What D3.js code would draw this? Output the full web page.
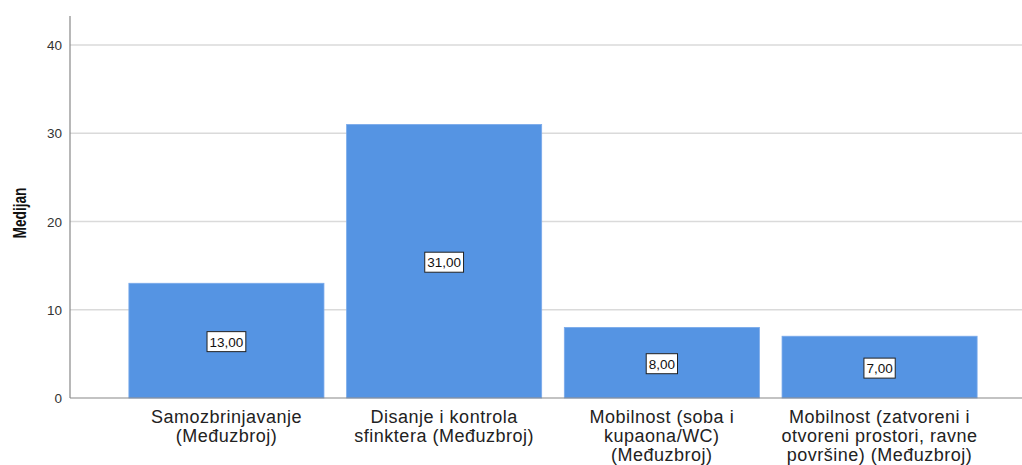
<!DOCTYPE html>
<html lang="en">
<head>
<meta charset="UTF-8">
<title>Medijan</title>
<style>
  body, html { margin: 0; background: #fff; overflow: hidden; }
</style>
</head>
<body>
<div id="chart"></div>
<script src="https://d3js.org/d3.v7.min.js"></script>
<script>
// category labels (already split into lines as in the picture)
const categories = [
  ["Samozbrinjavanje", "(Međuzbroj)"],
  ["Disanje i kontrola", "sfinktera (Međuzbroj)"],
  ["Mobilnost (soba i", "kupaona/WC)", "(Međuzbroj)"],
  ["Mobilnost (zatvoreni i", "otvoreni prostori, ravne", "površine) (Međuzbroj)"]
];
const medians = [13, 31, 8, 7];
const yTicks = [0, 10, 20, 30, 40];

var width = 1022, height = 465;
var plotLeft = 70, plotBottom = 398, plotTop = 16;

var svg = d3.select("#chart").append("svg")
  .attr("width", width)
  .attr("height", height)
  .style("font-family", "Arial, 'Liberation Sans', sans-serif");

var y = d3.scaleLinear().domain([0, 40]).range([plotBottom, 45]);

var x = d3.scaleBand()
  .domain(d3.range(categories.length))
  .range([118, 988])
  .paddingInner(0.104)
  .paddingOuter(0.05);

// gridlines
svg.selectAll(".grid")
  .data(yTicks.filter(d => d > 0))
  .enter().append("line")
  .attr("x1", plotLeft).attr("x2", width)
  .attr("y1", d => y(d)).attr("y2", d => y(d))
  .attr("stroke", "#dadada")
  .attr("stroke-width", 1.5);

// bars
svg.selectAll(".bar")
  .data(medians)
  .enter().append("rect")
  .attr("x", (d, i) => x(i))
  .attr("y", d => y(d))
  .attr("width", x.bandwidth())
  .attr("height", d => plotBottom - y(d))
  .attr("fill", "#5594e3")
  .attr("stroke", "#7aaaea")
  .attr("stroke-width", 0.8);

// axes lines
svg.append("line")
  .attr("x1", plotLeft).attr("x2", plotLeft)
  .attr("y1", plotTop).attr("y2", plotBottom)
  .attr("stroke", "#888").attr("stroke-width", 1.2);
svg.append("line")
  .attr("x1", plotLeft).attr("x2", width)
  .attr("y1", plotBottom).attr("y2", plotBottom)
  .attr("stroke", "#888").attr("stroke-width", 1.2);

// y tick labels
svg.selectAll(".ylab")
  .data(yTicks)
  .enter().append("text")
  .attr("x", 62)
  .attr("y", d => y(d) + 5)
  .attr("text-anchor", "end")
  .attr("font-size", 13.5)
  .attr("fill", "#333")
  .text(d => d);

// y title (reference font is narrow, so squeeze it along its length)
svg.append("text")
  .attr("transform", "translate(26,213) rotate(-90) scale(0.74,1)")
  .attr("text-anchor", "middle")
  .attr("font-size", 18.5)
  .attr("font-weight", "bold")
  .attr("fill", "#111")
  .text("Medijan");

// category labels
svg.selectAll(".xlab")
  .data(categories)
  .enter().append("text")
  .attr("text-anchor", "middle")
  .attr("font-size", 18)
  .attr("letter-spacing", 0.5)
  .attr("fill", "#222")
  .each(function(lines, i) {
    var cx = x(i) + x.bandwidth() / 2;
    d3.select(this).selectAll("tspan")
      .data(lines)
      .enter().append("tspan")
      .attr("x", cx)
      .attr("y", (l, j) => 423 + j * 19)
      .text(l => l);
  });

// value label boxes
var fmt = d => d.toFixed(2).replace(".", ",");
var lab = svg.selectAll(".vlab")
  .data(medians)
  .enter().append("g")
  .attr("transform", (d, i) => `translate(${x(i) + x.bandwidth() / 2},${(plotBottom + y(d)) / 2 + 1})`);

lab.append("text")
  .attr("text-anchor", "middle")
  .attr("dy", "0.36em")
  .attr("font-size", 13.5)
  .attr("fill", "#111")
  .text(fmt)
  .each(function() {
    var b = this.getBBox();
    d3.select(this.parentNode).insert("rect", "text")
      .attr("x", b.x - 2.5).attr("y", -10)
      .attr("width", b.width + 5).attr("height", 20)
      .attr("fill", "#fff")
      .attr("stroke", "#222")
      .attr("stroke-width", 1);
  });
</script>
</body>
</html>
